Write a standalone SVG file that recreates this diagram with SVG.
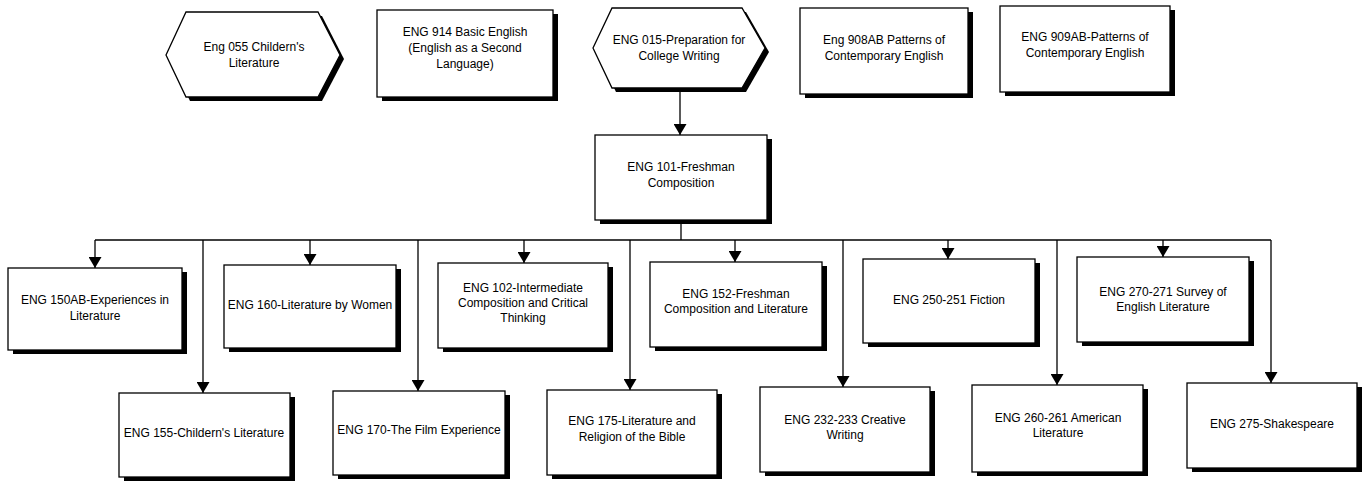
<svg xmlns="http://www.w3.org/2000/svg" width="1367" height="482" viewBox="0 0 1367 482">
<defs>
<style>
.box{fill:#fff;stroke:#000;stroke-width:1.3}
.sh{fill:#000}
.t{font-family:"Liberation Sans",Arial,sans-serif;font-size:12px;fill:#000;text-anchor:middle}
.c{fill:none;stroke:#000;stroke-width:1.3}
</style>
<marker id="arr" markerWidth="12" markerHeight="13" refX="11" refY="6.5" orient="auto" markerUnits="userSpaceOnUse">
<path d="M0,0 L11,6.5 L0,13 z" fill="#000"/>
</marker>
</defs>
<rect width="1367" height="482" fill="#fff"/>

<g id="connectors">
<line class="c" x1="680" y1="88" x2="680" y2="135" marker-end="url(#arr)"/>
<line class="c" x1="681" y1="220" x2="681" y2="240"/>
<line class="c" x1="95" y1="240" x2="1271" y2="240"/>
<line class="c" x1="95" y1="240" x2="95" y2="268" marker-end="url(#arr)"/>
<line class="c" x1="310" y1="240" x2="310" y2="265" marker-end="url(#arr)"/>
<line class="c" x1="524" y1="240" x2="524" y2="263" marker-end="url(#arr)"/>
<line class="c" x1="735" y1="240" x2="735" y2="262" marker-end="url(#arr)"/>
<line class="c" x1="948" y1="240" x2="948" y2="259" marker-end="url(#arr)"/>
<line class="c" x1="1163" y1="240" x2="1163" y2="257" marker-end="url(#arr)"/>
<line class="c" x1="203" y1="240" x2="203" y2="393" marker-end="url(#arr)"/>
<line class="c" x1="418" y1="240" x2="418" y2="391" marker-end="url(#arr)"/>
<line class="c" x1="630" y1="240" x2="630" y2="390" marker-end="url(#arr)"/>
<line class="c" x1="843" y1="240" x2="843" y2="387" marker-end="url(#arr)"/>
<line class="c" x1="1057" y1="240" x2="1057" y2="385" marker-end="url(#arr)"/>
<line class="c" x1="1271" y1="240" x2="1271" y2="383" marker-end="url(#arr)"/>
</g>

<g id="eng055">
<polygon class="sh" points="170,59 190,16 322,16 344,59 322,101 190,101"/>
<polygon class="box" points="166,55 186,12 318,12 340,55 318,97 186,97"/>
<text class="t" x="254" y="51">Eng 055 Childern's</text>
<text class="t" x="254" y="67">Literature</text>
</g>

<g id="eng914">
<rect class="sh" x="382" y="14" width="176" height="87"/>
<rect class="box" x="377" y="10" width="176" height="87"/>
<text class="t" x="465" y="36">ENG 914 Basic English</text>
<text class="t" x="465" y="52">(English as a Second</text>
<text class="t" x="465" y="68">Language)</text>
</g>

<g id="eng015">
<polygon class="sh" points="597,52 616,12 746,12 769,52 746,92 616,92"/>
<polygon class="box" points="593,48 612,8 742,8 765,48 742,88 612,88"/>
<text class="t" x="679" y="44">ENG 015-Preparation for</text>
<text class="t" x="679" y="60">College Writing</text>
</g>

<g id="eng908">
<rect class="sh" x="805" y="12" width="168" height="86"/>
<rect class="box" x="800" y="8" width="168" height="86"/>
<text class="t" x="884" y="44">Eng 908AB Patterns of</text>
<text class="t" x="884" y="60">Contemporary English</text>
</g>

<g id="eng909">
<rect class="sh" x="1005" y="10" width="170" height="86"/>
<rect class="box" x="1000" y="6" width="170" height="86"/>
<text class="t" x="1085" y="41">ENG 909AB-Patterns of</text>
<text class="t" x="1085" y="57">Contemporary English</text>
</g>

<g id="eng101">
<rect class="sh" x="600" y="139" width="172" height="85"/>
<rect class="box" x="595" y="135" width="172" height="85"/>
<text class="t" x="681" y="171">ENG 101-Freshman</text>
<text class="t" x="681" y="187">Composition</text>
</g>

<g id="eng150">
<rect class="sh" x="13" y="272" width="174" height="82"/>
<rect class="box" x="8" y="268" width="174" height="82"/>
<text class="t" x="95" y="304">ENG 150AB-Experiences in</text>
<text class="t" x="95" y="320">Literature</text>
</g>

<g id="eng160">
<rect class="sh" x="229" y="269" width="172" height="83"/>
<rect class="box" x="224" y="265" width="172" height="83"/>
<text class="t" x="310" y="309">ENG 160-Literature by Women</text>
</g>

<g id="eng102">
<rect class="sh" x="443" y="267" width="170" height="85"/>
<rect class="box" x="438" y="263" width="170" height="85"/>
<text class="t" x="523" y="292">ENG 102-Intermediate</text>
<text class="t" x="523" y="307">Composition and Critical</text>
<text class="t" x="523" y="322">Thinking</text>
</g>

<g id="eng152">
<rect class="sh" x="655" y="266" width="172" height="85"/>
<rect class="box" x="650" y="262" width="172" height="85"/>
<text class="t" x="736" y="298">ENG 152-Freshman</text>
<text class="t" x="736" y="313">Composition and Literature</text>
</g>

<g id="eng250">
<rect class="sh" x="868" y="263" width="172" height="84"/>
<rect class="box" x="863" y="259" width="172" height="84"/>
<text class="t" x="949" y="304">ENG 250-251 Fiction</text>
</g>

<g id="eng270">
<rect class="sh" x="1082" y="261" width="172" height="85"/>
<rect class="box" x="1077" y="257" width="172" height="85"/>
<text class="t" x="1163" y="296">ENG 270-271 Survey of</text>
<text class="t" x="1163" y="311">English Literature</text>
</g>

<g id="eng155">
<rect class="sh" x="124" y="397" width="171" height="84"/>
<rect class="box" x="119" y="393" width="171" height="84"/>
<text class="t" x="204" y="437">ENG 155-Childern's Literature</text>
</g>

<g id="eng170">
<rect class="sh" x="338" y="395" width="172" height="84"/>
<rect class="box" x="333" y="391" width="172" height="84"/>
<text class="t" x="419" y="434">ENG 170-The Film Experience</text>
</g>

<g id="eng175">
<rect class="sh" x="552" y="394" width="170" height="85"/>
<rect class="box" x="547" y="390" width="170" height="85"/>
<text class="t" x="632" y="425">ENG 175-Literature and</text>
<text class="t" x="632" y="441">Religion of the Bible</text>
</g>

<g id="eng232">
<rect class="sh" x="765" y="391" width="170" height="85"/>
<rect class="box" x="760" y="387" width="170" height="85"/>
<text class="t" x="845" y="424">ENG 232-233 Creative</text>
<text class="t" x="845" y="439">Writing</text>
</g>

<g id="eng260">
<rect class="sh" x="977" y="389" width="171" height="87"/>
<rect class="box" x="972" y="385" width="171" height="87"/>
<text class="t" x="1058" y="422">ENG 260-261 American</text>
<text class="t" x="1058" y="437">Literature</text>
</g>

<g id="eng275">
<rect class="sh" x="1192" y="387" width="170" height="85"/>
<rect class="box" x="1187" y="383" width="170" height="85"/>
<text class="t" x="1272" y="428">ENG 275-Shakespeare</text>
</g>
</svg>
